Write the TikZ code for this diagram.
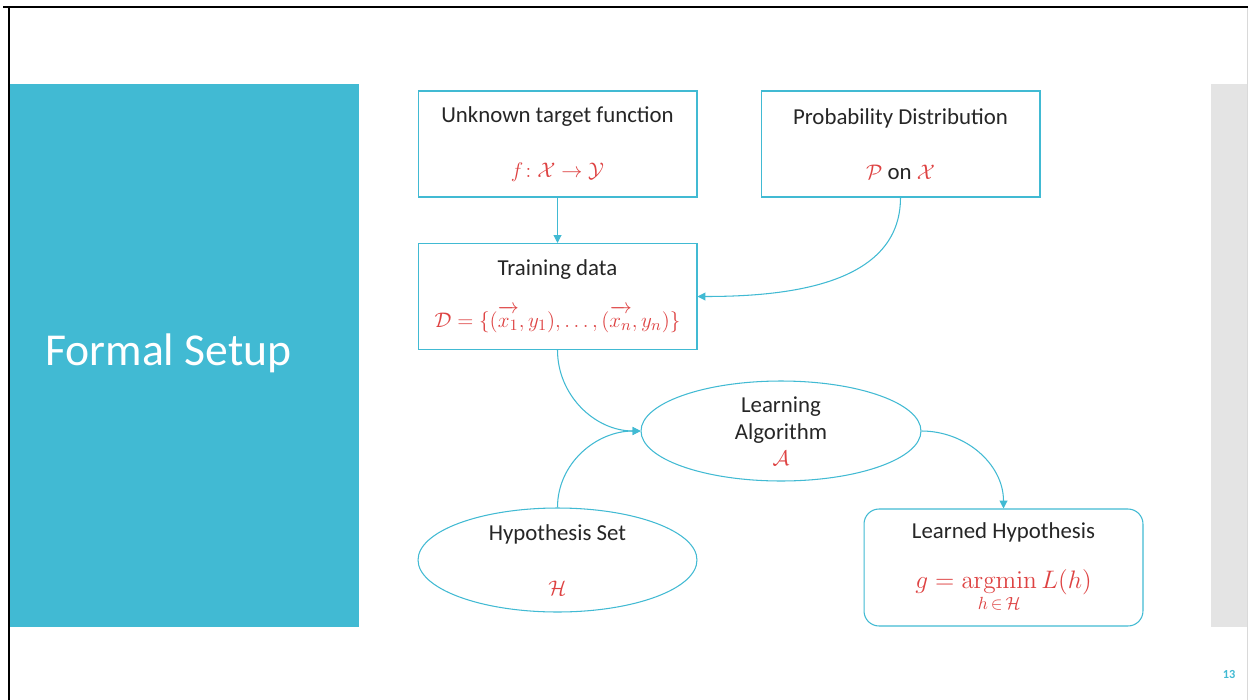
\documentclass[tikz,border=0pt]{standalone}
\usepackage{amsmath,amsfonts,amssymb}
\usepackage[no-math]{fontspec}
\setmainfont{Carlito}
\usepackage{tikz}
\usetikzlibrary{arrows.meta}
\usetikzlibrary{shapes.geometric}
\usepackage{xcolor}
\definecolor{ColA}{RGB}{65,186,211}
\definecolor{ColB}{RGB}{222,66,66}
\definecolor{ColC}{RGB}{228,228,228}
\newcommand{\Red}[1]{\textcolor{ColB}{#1}}
\newcommand{\VecX}[1]{\overrightarrow{\vphantom{b}x_{#1}}}
\tikzstyle{BoxSetup}=[draw=ColA,line width=0.6pt,minimum width=5.58cm,minimum height=2.12cm,
inner sep=0pt,align=center,text=black!85,font=\fontsize{13}{15.6}\selectfont]
\tikzstyle{EllSetup}=[BoxSetup,ellipse]
\tikzstyle{EdgeSetup}=[ColA,line width=0.6pt,-{Triangle[length=4.5pt,width=4.5pt]}]

\begin{document}
\begin{tikzpicture}[x=0.02cm,y=-0.02cm]
        \useasboundingbox(0,0)rectangle(1248,700);
        \fill[white](0,0)rectangle(1248,700);
        \fill[ColA](10,84)rectangle(359,627);
        \fill[ColC](1211,84)rectangle(1248,627);
        \draw[black!15,line width=0.4pt](1247,8)--(1247,700);
        \draw[black,line width=1.1pt](3,7)--(1248,7);
        \draw[black,line width=1.1pt](9,7)--(9,700);
        \node[white,anchor=west,font=\fontsize{26}{30}\selectfont](title)at(39,353){Formal Setup};
        \node[BoxSetup](target)at(557.5,144){Unknown target function\\[16pt]\Red{$f\!:\mathcal{X}\rightarrow\mathcal{Y}$}};
        \node[BoxSetup](prob)at(900.5,144){Probability Distribution\\[16pt]\Red{$\mathcal{P}$} on \Red{$\mathcal{X}$}};
        \node[BoxSetup](train)at(557.5,296.5){Training data\\[14pt]\Red{$\mathcal{D}=\{(\VecX{1},y_1),\dots,(\VecX{n},y_n)\}$}};
        \node[EllSetup,minimum width=5.6cm,minimum height=2cm](algo)at(781,431){Learning\\Algorithm\\[-1pt]\Red{$\mathcal{A}$}};
        \node[EllSetup,minimum height=2.08cm](hset)at(557.5,560){Hypothesis Set\\[16pt]\Red{$\mathcal{H}$}};
        \node[BoxSetup,rounded corners=0.3cm,minimum height=2.34cm](learned)at(1003.5,567.5){Learned Hypothesis\\[13pt]\fontsize{14}{16}\selectfont\Red{$\displaystyle g=\operatorname*{argmin}_{h\,\in\,\mathcal{H}}L(h)$}};
        \node[ColA,font=\bfseries\fontsize{7}{8}\selectfont](pagenum)at(1229,675){13};
        \draw[EdgeSetup](target)--(train);
        \draw[EdgeSetup](prob.south)to[out=-90,in=0](train.east);
        \draw[EdgeSetup](train.south)to[out=-90,in=180](algo.west);
        \draw[EdgeSetup](hset.north)to[out=90,in=180](algo.west);
        \draw[EdgeSetup](algo.east)to[out=0,in=90](learned.north);
    \end{tikzpicture}
\end{document}
